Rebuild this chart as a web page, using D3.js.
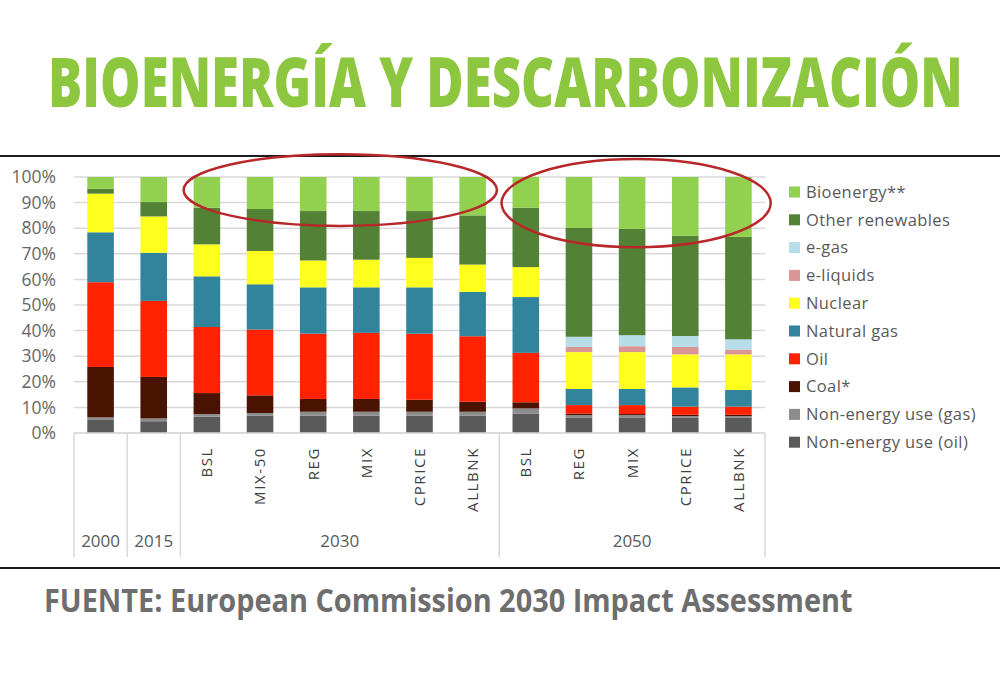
<!DOCTYPE html>
<html>
<head>
    <meta charset="utf-8">
    <script src="https://d3js.org/d3.v7.min.js"></script>
    <style>
        body { margin: 0; background: #fff; }
        svg text { font-family: "Open Sans", "DejaVu Sans", sans-serif; }
    </style>
</head>
<body>
    <div id="chart"></div>

    <script>
        // categorias (año / escenario)
        const years = ["2000", "2015", "2030", "2030", "2030", "2030", "2030", "2030", "2050", "2050", "2050", "2050", "2050"];
        const scenarios = ["", "", "BSL", "MIX-50", "REG", "MIX", "CPRICE", "ALLBNK", "BSL", "REG", "MIX", "CPRICE", "ALLBNK"];

        // series (% del consumo), de abajo hacia arriba
        const nonEnergyOil = [5.1, 4.6, 6.4, 6.8, 6.8, 6.8, 6.8, 6.8, 7.6, 6.1, 6.1, 6.1, 6.1];
        const nonEnergyGas = [1.0, 1.1, 1.0, 1.0, 1.5, 1.5, 1.5, 1.5, 2.0, 0.9, 0.9, 0.5, 0.5];
        const coal         = [19.7, 16.2, 8.2, 6.9, 5.0, 5.0, 4.7, 3.9, 2.4, 0.6, 0.4, 0.5, 0.5];
        const oil          = [33.1, 29.7, 25.8, 25.7, 25.5, 25.8, 25.8, 25.6, 19.3, 3.3, 3.5, 3.2, 3.2];
        const naturalGas   = [19.5, 18.8, 19.8, 17.7, 18.1, 17.8, 18.1, 17.3, 21.8, 6.3, 6.3, 7.5, 6.5];
        const nuclear      = [15.1, 14.2, 12.5, 13.0, 10.5, 10.8, 11.5, 10.7, 11.7, 14.4, 14.4, 12.9, 13.9];
        const eLiquids     = [0, 0, 0, 0, 0, 0, 0, 0, 0, 2.0, 2.3, 2.9, 1.9];
        const eGas         = [0, 0, 0, 0, 0, 0, 0, 0, 0, 4.0, 4.3, 4.3, 4.0];
        const otherRenew   = [1.9, 5.6, 14.3, 16.4, 19.3, 19.0, 18.3, 19.2, 23.2, 42.5, 41.5, 39.1, 40.0];
        const bioenergy    = [4.6, 9.8, 12.0, 12.5, 13.3, 13.3, 13.3, 15.0, 12.0, 19.9, 20.3, 23.0, 23.4];

        const seriesNames = ["Non-energy use (oil)", "Non-energy use (gas)", "Coal*", "Oil", "Natural gas",
                             "Nuclear", "e-liquids", "e-gas", "Other renewables", "Bioenergy**"];
        const seriesColors = ["#5a5a5a", "#8c8c8c", "#4a1200", "#ff2200", "#31849b",
                              "#ffff1e", "#d99694", "#b7dde8", "#538135", "#92d050"];
        const seriesValues = [nonEnergyOil, nonEnergyGas, coal, oil, naturalGas, nuclear, eLiquids, eGas, otherRenew, bioenergy];

        const yTicks = [0, 10, 20, 30, 40, 50, 60, 70, 80, 90, 100];

        const W = 1000, H = 680;
        const svg = d3.select("#chart").append("svg")
            .attr("width", W).attr("height", H);

        svg.append("rect").attr("width", W).attr("height", H).attr("fill", "#fff");

        // texto estrechado con escala horizontal para que ocupe el ancho dado
        function fitText(txt, x0, baseline, width, size, weight, color) {
            const g = svg.append("g");
            const t = g.append("text")
                .attr("font-size", size).attr("font-weight", weight)
                .attr("fill", color)
                .text(txt);
            const w = t.node().getComputedTextLength();
            g.attr("transform", "translate(" + x0 + "," + baseline + ") scale(" + (width / w) + ",1)");
            return g;
        }

        // titulo
        fitText("BIOENERGÍA Y DESCARBONIZACIÓN", 48, 107, 915, 69, 800, "#8dc63f");

        svg.append("line").attr("x1", 0).attr("x2", W).attr("y1", 156).attr("y2", 156)
            .attr("stroke", "#1a1a1a").attr("stroke-width", 2);
        svg.append("line").attr("x1", 0).attr("x2", W).attr("y1", 568).attr("y2", 568)
            .attr("stroke", "#1a1a1a").attr("stroke-width", 2);

        // fuente
        fitText("FUENTE: European Commission 2030 Impact Assessment", 44, 612, 809, 33, 700, "#6e6e6e");

        ////////////////////////////////////////////////////////////////////////
        // escalas

        const keys = years.map((y, i) => y + "|" + scenarios[i] + "|" + i);
        const x = d3.scaleBand().domain(keys).range([74, 765]).paddingInner(0.5).paddingOuter(0.25);
        const y = d3.scaleLinear().domain([0, 100]).range([433, 177]);
        const halfGap = (x.step() - x.bandwidth()) / 2;

        // grid
        svg.append("g").selectAll("line").data(yTicks).enter().append("line")
            .attr("x1", 74).attr("x2", 765)
            .attr("y1", d => y(d)).attr("y2", d => y(d))
            .attr("stroke", "#d9d9d9").attr("stroke-width", 1.5);

        // eje y
        const yAxis = svg.append("g")
            .attr("transform", "translate(56,0)")
            .call(d3.axisLeft(y).tickValues(yTicks).tickFormat(d => d + "%").tickSize(0).tickPadding(0));
        yAxis.select(".domain").remove();
        yAxis.selectAll("text")
            .attr("font-size", 17.5).attr("fill", "#666")
            .attr("font-family", "'Open Sans', sans-serif");

        // barras apiladas
        const table = keys.map((k, i) => {
            const row = { key: k };
            seriesNames.forEach((s, j) => { row[s] = seriesValues[j][i]; });
            return row;
        });
        const stacked = d3.stack().keys(seriesNames)(table);

        svg.append("g").selectAll("g").data(stacked).enter().append("g")
            .attr("fill", (d, i) => seriesColors[i])
            .selectAll("rect").data(d => d).enter().append("rect")
            .attr("x", d => x(d.data.key))
            .attr("width", x.bandwidth())
            .attr("y", d => y(d[1]))
            .attr("height", d => Math.max(0, y(d[0]) - y(d[1])));

        // eje de categorias en dos niveles
        const axisG = svg.append("g");
        axisG.append("line").attr("x1", 74).attr("x2", 765).attr("y1", 433).attr("y2", 433)
            .attr("stroke", "#d9d9d9").attr("stroke-width", 1.5);

        const yearGroups = [];
        years.forEach((yr, i) => {
            const last = yearGroups[yearGroups.length - 1];
            if (last && last.year === yr) last.end = keys[i];
            else yearGroups.push({ year: yr, start: keys[i], end: keys[i] });
        });

        const bounds = [x(keys[0]) - halfGap].concat(yearGroups.map(g => x(g.end) + x.bandwidth() + halfGap));
        axisG.selectAll("line.sep").data(bounds).enter().append("line")
            .attr("class", "sep")
            .attr("x1", d => d).attr("x2", d => d)
            .attr("y1", 433).attr("y2", 557)
            .attr("stroke", "#d9d9d9").attr("stroke-width", 1.5);

        axisG.selectAll("text.scen").data(keys).enter().append("text")
            .attr("class", "scen")
            .attr("transform", d => "translate(" + (x(d) + x.bandwidth() / 2) + ",447) rotate(-90)")
            .attr("text-anchor", "end")
            .attr("dy", "0.36em")
            .attr("font-size", 15)
            .attr("letter-spacing", 1.6)
            .attr("fill", "#404040")
            .text((d, i) => scenarios[i]);

        axisG.selectAll("text.year").data(yearGroups).enter().append("text")
            .attr("class", "year")
            .attr("x", g => (x(g.start) + x(g.end) + x.bandwidth()) / 2)
            .attr("y", 547)
            .attr("text-anchor", "middle")
            .attr("font-size", 17)
            .attr("fill", "#595959")
            .text(g => g.year);

        // leyenda
        const legendItems = seriesNames.map((s, i) => ({ name: s, color: seriesColors[i] })).reverse();
        const legend = svg.append("g").attr("transform", "translate(789,192)");
        const li = legend.selectAll("g").data(legendItems).enter().append("g")
            .attr("transform", (d, i) => "translate(0," + (i * 27.8) + ")");
        li.append("rect").attr("x", 0).attr("y", -5.5).attr("width", 11).attr("height", 11)
            .attr("fill", d => d.color);
        li.append("text").attr("x", 17).attr("dy", "0.35em")
            .attr("font-size", 16.5).attr("letter-spacing", 0.4)
            .attr("fill", "#595959")
            .text(d => d.name);

        // elipses de resaltado (bioenergia 2030 / 2050)
        const g2030 = yearGroups.find(g => g.year === "2030");
        const g2050 = yearGroups.find(g => g.year === "2050");
        const ellipses = [
            { x0: x(g2030.start) - 10, x1: x(g2030.end) + x.bandwidth() + 11, cy: 94.9, ry: 14 },
            { x0: x(g2050.start) - 11, x1: x(g2050.end) + x.bandwidth() + 19, cy: 89.8, ry: 17.2 }
        ];
        svg.append("g").selectAll("ellipse").data(ellipses).enter().append("ellipse")
            .attr("cx", d => (d.x0 + d.x1) / 2)
            .attr("cy", d => y(d.cy))
            .attr("rx", d => (d.x1 - d.x0) / 2)
            .attr("ry", d => y(0) - y(d.ry))
            .attr("fill", "none")
            .attr("stroke", "#b8282a").attr("stroke-width", 2.5);
    </script>
</body>
</html>
